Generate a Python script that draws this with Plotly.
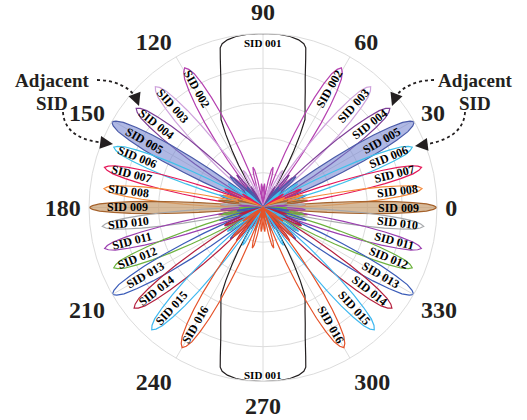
import math
import plotly.graph_objects as go

W, H = 527, 420
CX, CY, R = 263, 207.5, 174  # pixel centre / radius of the polar plot

SIDS = ["SID 001", "SID 002", "SID 003", "SID 004", "SID 005", "SID 006", "SID 007", "SID 008",
        "SID 009", "SID 010", "SID 011", "SID 012", "SID 013", "SID 014", "SID 015", "SID 016"]
# main-lobe direction on the right half (deg), peak level, null half-width (deg)
PEAK_ANGLE = [90, 60.7, 48.3, 38, 29.5, 22, 14.2, 6.8, 0, -6.7, -14.5, -22, -30, -38, -47.7, -60]
PEAK_R = [1.0, 0.92, 0.93, 0.925, 1.0, 0.925, 0.94, 0.92, 1.0, 0.93, 0.94, 0.925, 1.0, 0.94, 0.95, 0.93]
NULL_HW = [None, 10.5, 9.5, 9, 9.3, 8.3, 7.8, 7.3, 6.3, 7.3, 7.8, 8.3, 9.3, 9, 9.5, 10.5]
COLORS = ["#231f20", "#b541b0", "#cfa3dc", "#7f3f98", "#4a5aa8", "#3ec1ea", "#e5195a", "#f58a3a",
          "#a5622c", "#a7a9ac", "#9b3fb0", "#6db33f", "#3b5cb8", "#b5213f", "#3fb8f0", "#e5532a"]
FILLS = {4: "rgba(110,125,205,0.55)", 8: "rgba(200,160,115,0.72)"}

# lobe profile (offset in null half-widths -> level relative to peak)
LOBE_T = [0.0, 0.1, 0.2, 0.3, 0.4, 0.5, 0.6, 0.7, 0.8, 0.9, 1.0, 1.15, 1.3, 1.45, 1.6, 1.75, 1.9,
          2.0, 2.15, 2.3, 2.45, 2.6, 2.75, 2.9, 3.0]
LOBE_F = [1.0, 0.98, 0.94, 0.86, 0.76, 0.64, 0.50, 0.37, 0.23, 0.11, 0.0, 0.12, 0.22, 0.26, 0.24,
          0.17, 0.07, 0.0, 0.08, 0.13, 0.15, 0.13, 0.09, 0.04, 0.0]
# broad SID 001 lobe (offset from 90 / 270 deg -> level)
SID1_OFF = [0, 5, 9, 12, 14, 15, 16, 18, 20, 22, 24, 25.5, 27, 28.5, 30, 31.5, 33]
SID1_R = [1.0, 1.0, 0.995, 0.985, 0.97, 0.95, 0.89, 0.785, 0.71, 0.645, 0.595, 0.56, 0.47, 0.37,
          0.28, 0.15, 0.0]

ANGLE_TICKS = [0, 30, 60, 90, 120, 150, 180, 210, 240, 270, 300, 330]

SERIF = "Liberation Serif, Times New Roman, serif"

fig = go.Figure()

t_full = [-t for t in reversed(LOBE_T[1:])] + LOBE_T
f_full = list(reversed(LOBE_F[1:])) + LOBE_F
o1_full = [-o for o in reversed(SID1_OFF[1:])] + SID1_OFF
r1_full = list(reversed(SID1_R[1:])) + SID1_R

for i, name in enumerate(SIDS):
    if i == 0:
        th = [90 + o for o in o1_full] + [270 + o for o in o1_full]
        rr = r1_full + r1_full
    else:
        a0, pk, hw = PEAK_ANGLE[i], PEAK_R[i], NULL_HW[i]
        right = [a0 + t * hw for t in t_full]
        left = [180 - v for v in right]
        th = right + left
        rr = [pk * f for f in f_full] * 2
    kw = {}
    if i in FILLS:
        kw = dict(fill="toself", fillcolor=FILLS[i])
    fig.add_trace(go.Scatterpolar(r=rr, theta=th, mode="lines", name=name,
                                  line=dict(color=COLORS[i], width=1.2), **kw))

fig.update_layout(
    width=W, height=H, margin=dict(l=0, r=0, t=0, b=0),
    paper_bgcolor="white", showlegend=False,
    polar=dict(
        domain=dict(x=[(CX - R) / W, (CX + R) / W], y=[1 - (CY + R) / H, 1 - (CY - R) / H]),
        bgcolor="white",
        radialaxis=dict(range=[0, 1], tickvals=[0.2, 0.4, 0.6, 0.8, 1.0], showticklabels=False,
                        ticks="", showline=False, gridcolor="#dcdcdc", gridwidth=1),
        angularaxis=dict(rotation=0, direction="counterclockwise", tickvals=ANGLE_TICKS,
                         ticktext=[str(v) for v in ANGLE_TICKS],
                         tickfont=dict(family=SERIF, size=24, color="#231f20", weight="bold"),
                         ticks="outside", ticklen=3, tickcolor="rgba(0,0,0,0)",
                         showline=True, linecolor="#dcdcdc", gridcolor="#dcdcdc"),
    ),
)


def px(x, y):
    return x / W, 1 - y / H


def pol(ang, r):
    return CX + r * R * math.cos(math.radians(ang)), CY - r * R * math.sin(math.radians(ang))


annots = []
lab_font = dict(family=SERIF, size=12, color="black", weight="bold")
top_font = dict(family=SERIF, size=11, color="black", weight="bold")
centered = dict(xref="paper", yref="paper", xanchor="center", yanchor="middle", showarrow=False)
for i, name in enumerate(SIDS):
    if i == 0:
        for (x, y) in [(CX, 43), (CX, 375)]:
            xp, yp = px(x, y)
            annots.append(dict(x=xp, y=yp, text=name, font=top_font, **centered))
        continue
    a0 = PEAK_ANGLE[i]
    for ang, rot in [(a0, -a0), (180 - a0, a0)]:
        x, y = pol(ang, 0.78)
        xp, yp = px(x, y)
        annots.append(dict(x=xp, y=yp, text=name, textangle=rot, font=lab_font, **centered))

big = dict(family=SERIF, size=19, color="#231f20", weight="bold")
for (x, y, txt) in [(52, 80, "Adjacent"), (52, 103, "SID"), (475, 80, "Adjacent"), (475, 103, "SID")]:
    xp, yp = px(x, y)
    annots.append(dict(x=xp, y=yp, text=txt, font=big, **centered))

curves = [
    [(97, 80), (115, 80), (132, 88), (137, 100)],
    [(63, 112), (64, 132), (82, 142), (108, 143)],
    [(434, 80), (416, 80), (399, 88), (394, 100)],
    [(465, 112), (464, 132), (446, 142), (421, 145)],
]
heads = [((139, 106), (-3, -8)), ((113, 144), (-8, -1)), ((392, 106), (3, -8)), ((415, 146), (8, -1))]
shapes = []
for c in curves:
    p = [px(x, y) for x, y in c]
    path = "M {},{} C {},{} {},{} {},{}".format(p[0][0], p[0][1], p[1][0], p[1][1],
                                                p[2][0], p[2][1], p[3][0], p[3][1])
    shapes.append(dict(type="path", path=path, xref="paper", yref="paper",
                       line=dict(color="#231f20", width=1.8, dash="dot")))
for (x, y), (ax, ay) in heads:
    xp, yp = px(x, y)
    annots.append(dict(x=xp, y=yp, xref="paper", yref="paper", ax=ax, ay=ay, text="",
                       showarrow=True, arrowhead=2, arrowsize=1.6, arrowwidth=1.6,
                       arrowcolor="#231f20"))

fig.update_layout(annotations=annots, shapes=shapes)
fig.write_html("out.html", config={"displayModeBar": False},
               post_script="document.body.style.margin='0';")
